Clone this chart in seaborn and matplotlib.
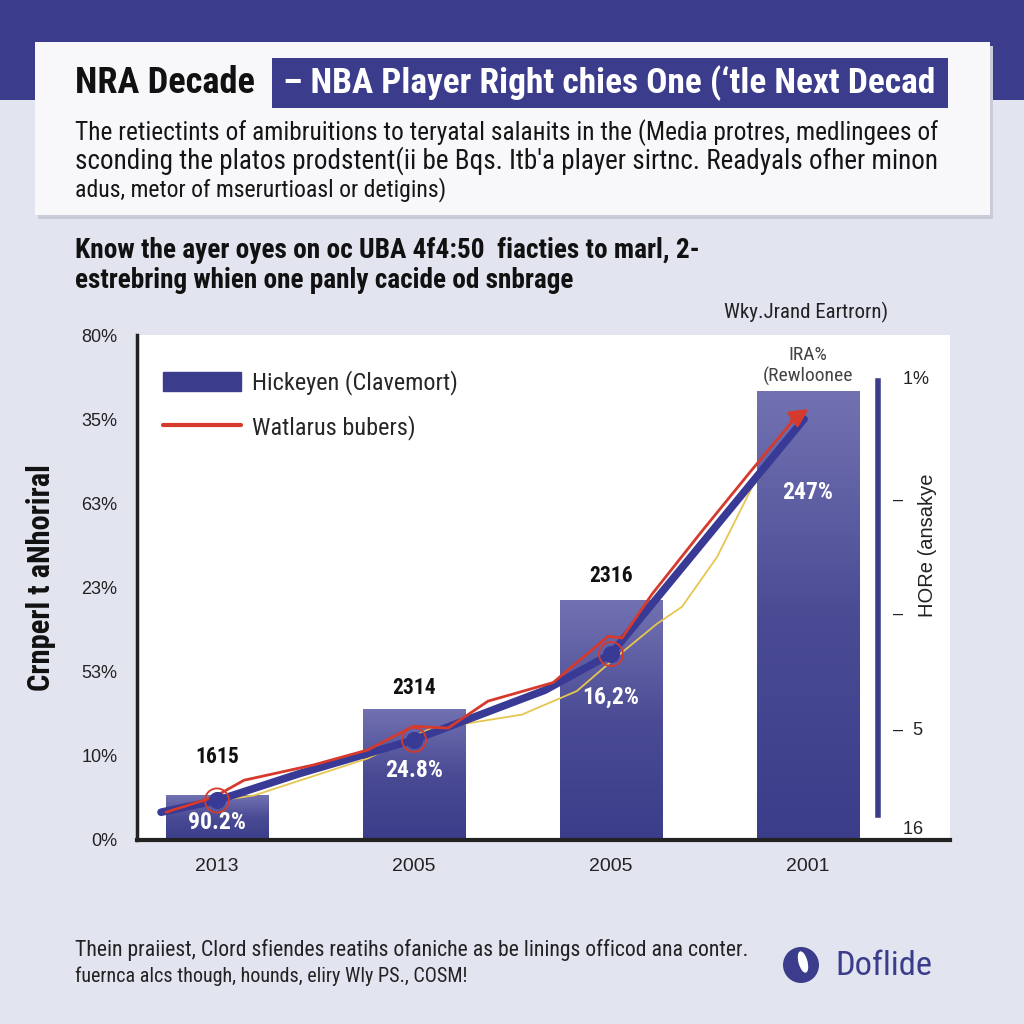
import numpy as np
import pandas as pd
import matplotlib
matplotlib.use("Agg")
import matplotlib.pyplot as plt
import seaborn as sns
from matplotlib import font_manager as fm
from matplotlib.patches import Rectangle, Circle, Patch, Ellipse
from matplotlib.lines import Line2D
from matplotlib.colors import LinearSegmentedColormap

# ---------------- data ----------------
years = ["2013", "2005", "2005", "2001"]
bar_values = [0.53, 1.56, 2.85, 5.33]
left_tick_labels = ["0%", "10%", "53%", "23%", "63%", "35%", "80%"]
right_tick_pos = [5.49, 4.06, 2.70, 1.33, 0.15]
right_tick_labels = ["  1%", "–", "–", "–  5", "  16"]
bar_top_labels = ["1615", "2314", "2316"]
bar_top_y = [0.99, 1.81, 3.14]
bar_inner_labels = ["90.2%", "24.8%", "16,2%", "247%"]
bar_inner_y = [0.21, 0.83, 1.70, 4.13]

navy_x = [-0.284, 0.0, 0.42, 1.0, 1.665, 2.0, 2.98]
navy_y = [0.33, 0.47, 0.79, 1.19, 1.78, 2.21, 5.00]
red_x = [-0.259, -0.015, 0.137, 0.487, 0.766, 0.995, 1.173, 1.376, 1.706,
         1.985, 2.056, 2.208, 2.462, 2.716, 2.93]
red_y = [0.33, 0.51, 0.71, 0.89, 1.07, 1.35, 1.33, 1.65, 1.87,
         2.42, 2.40, 2.92, 3.67, 4.40, 5.00]
yellow_x = [-0.01, 0.188, 0.766, 1.071, 1.548, 1.827, 2.015, 2.234, 2.36,
            2.538, 2.716, 2.914]
yellow_y = [0.46, 0.53, 0.97, 1.31, 1.49, 1.77, 2.15, 2.57, 2.77,
            3.36, 4.19, 4.79]
marker_x = [0.0, 1.0, 2.0]
marker_y = [0.47, 1.19, 2.21]

legend_labels = ["Hickeyen (Clavemort)", "Watlarus bubers)"]

# ---------------- style ----------------
sns.set_theme(style="white")


def pick(cands):
    for c in cands:
        try:
            fm.findfont(fm.FontProperties(family=c), fallback_to_default=False)
            return c
        except Exception:
            pass
    return "DejaVu Sans"


REG = pick(["Liberation Sans", "Roboto", "DejaVu Sans"])
NARROW = pick(["Liberation Sans Narrow", "Roboto Condensed", "Arial Narrow", REG])
plt.rcParams["font.family"] = [REG, "DejaVu Sans"]

BG = "#e2e4f0"
NAVY = "#3b3d8c"
BARTOP = "#7272b2"
BARBOT = "#3c3d8a"
LINE_NAVY = "#383a96"
RED = "#d63a2c"
YELLOW = "#e6c650"

fig = plt.figure(figsize=(10.24, 10.24), dpi=100, facecolor=BG)
renderer = fig.canvas.get_renderer()

# background / decoration axes in pixel coordinates
bg = fig.add_axes([0, 0, 1, 1], zorder=-5)
bg.set_xlim(0, 1024)
bg.set_ylim(1024, 0)
bg.axis("off")
bg.add_patch(Rectangle((0, 0), 1024, 100, color=NAVY, lw=0))
bg.add_patch(Rectangle((38, 46), 955, 173, color="#c9cbd9", lw=0))
bg.add_patch(Rectangle((35, 42), 955, 173, color="#f8f8fb", lw=0))
bg.add_patch(Rectangle((272, 58), 676, 50, color=NAVY, lw=0))


def fit_text(x, y, s, target_w, size, **kw):
    t = bg.text(x, y, s, fontsize=size, **kw)
    w = t.get_window_extent(renderer).width
    t.set_fontsize(size * target_w / w)
    return t


NF = [NARROW, "DejaVu Sans"]
fit_text(75, 83, "NRA Decade", 180, 24, family=NF,
         fontweight="bold", va="center", color="#111111")
fit_text(283, 83, "– NBA Player Right chies One (‘tle Next Decad", 654, 24,
         family=NF, fontweight="bold", va="center", color="white")
body = ["The retiectints of amibruitions to teryatal salaнits in the (Media protres, medlingees of",
        "sconding the platos prodstent(ii be Bqs. Itb'a player sirtnc. Readyals ofher minon",
        "adus, metor of mserurtioasl or detigins)"]
fit_text(75, 133, body[0], 865, 16, family=NF, va="center", color="#151515")
fit_text(75, 161, body[1], 865, 16, family=NF, va="center", color="#151515")
fit_text(75, 190, body[2], 372, 16, family=NF, va="center", color="#151515")

fit_text(75, 251, "Know the ayer oyes on oc UBA 4f4:50  fiacties to marl, 2-", 625, 16,
         family=NF, fontweight="bold", va="center", color="#111111")
fit_text(75, 281, "estrebring whien one panly cacide od snbrage", 500, 16,
         family=NF, fontweight="bold", va="center", color="#111111")
fit_text(724, 312, "Wky.Jrand Eartrorn)", 164, 12, family=NF,
         va="center", color="#222222")

fit_text(75, 950, "Thein praiiest, Clord sfiendes reatihs ofaniche as be linings officod ana conter.",
         677, 12, family=NF, va="center", color="#222222")
fit_text(75, 976, "fuernca alcs though, hounds, eliry Wly PS., COSM!", 393, 12,
         family=NF, va="center", color="#222222")
bg.add_patch(Circle((801, 965), 18, color=NAVY, lw=0))
bg.add_patch(Ellipse((803, 962), 9, 22, angle=-15, color="white", lw=0))
fit_text(835, 966, "Doflide", 97, 20, family=NF, va="center", color=NAVY)

# ---------------- main chart ----------------
L, R, T, B = 137, 950, 335, 840
ax = fig.add_axes([L / 1024, 1 - B / 1024, (R - L) / 1024, (B - T) / 1024], zorder=1)
ax.set_facecolor("white")

df = pd.DataFrame({"slot": [0, 1, 2, 3], "value": bar_values})
sns.barplot(data=df, x="slot", y="value", color=BARBOT, width=0.52,
            saturation=1, ax=ax, zorder=2)

cmap = LinearSegmentedColormap.from_list("bar", [BARBOT, "#4a4b94", BARTOP])
grad = np.linspace(0, 1, 256).reshape(-1, 1)
for p in list(ax.patches):
    x0, y0, w, h = p.get_x(), p.get_y(), p.get_width(), p.get_height()
    im = ax.imshow(grad, extent=[x0, x0 + w, y0, y0 + h], origin="lower",
                   aspect="auto", cmap=cmap, zorder=2.1)
    im.set_clip_path(p)

ax.set_xlim(-0.406, 3.721)
ax.set_ylim(0, 6)

sns.lineplot(x=yellow_x, y=yellow_y, sort=False, color=YELLOW, lw=1.3, ax=ax, zorder=3)
sns.lineplot(x=navy_x, y=navy_y, sort=False, color=LINE_NAVY, lw=5.5, ax=ax, zorder=4)
sns.lineplot(x=red_x, y=red_y, sort=False, color=RED, lw=2.0, ax=ax, zorder=5)
ax.annotate("", xy=(3.015, 5.14), xytext=(2.90, 4.96),
            arrowprops=dict(arrowstyle="-|>", color=RED, lw=2.0, mutation_scale=28),
            zorder=6)
sns.scatterplot(x=marker_x, y=marker_y, s=130, color=LINE_NAVY, edgecolor=LINE_NAVY,
                ax=ax, zorder=6)
sns.scatterplot(x=marker_x, y=marker_y, s=300, facecolor="none", edgecolor=RED,
                linewidth=1.3, ax=ax, zorder=6)

for i, (lab, yy) in enumerate(zip(bar_top_labels, bar_top_y)):
    ax.text(i, yy, lab, ha="center", va="center", fontsize=15.5, fontweight="bold",
            family=NF, color="#111111", zorder=7)
for i, (lab, yy) in enumerate(zip(bar_inner_labels, bar_inner_y)):
    ax.text(i, yy, lab, ha="center", va="center", fontsize=17, fontweight="bold",
            family=NF, color="white", zorder=7)
ax.text(3, 5.76, "IRA%", ha="center", va="center", fontsize=14,
        family=NF, color="#444444", zorder=7)
ax.text(3, 5.51, "(Rewloonee", ha="center", va="center", fontsize=14,
        family=NF, color="#444444", zorder=7)

ax.set_xticks(range(len(years)))
ax.set_xticklabels(years)
ax.set_yticks(range(len(left_tick_labels)))
ax.set_yticklabels(left_tick_labels)
ax.tick_params(axis="x", length=0, pad=13, labelsize=14, labelcolor="#222222")
ax.tick_params(axis="y", length=0, pad=14, labelsize=13, labelcolor="#222222")
ax.set_xlabel("")
ax.set_ylabel("Crnperl t aNhoriral", fontsize=22, fontweight="bold",
              family=NF, color="#111111")
ax.yaxis.set_label_coords(-0.100, 0.52)
for s in ["top", "right"]:
    ax.spines[s].set_visible(False)
ax.spines["left"].set_color("#222222")
ax.spines["left"].set_linewidth(2.5)
ax.spines["bottom"].set_color("#222222")
ax.spines["bottom"].set_linewidth(3)

handles = [Patch(facecolor=NAVY, edgecolor=NAVY),
           Line2D([0], [0], color=RED, lw=3)]
ax.legend(handles, legend_labels, loc="upper left", bbox_to_anchor=(0.032, 0.93),
          frameon=False, handlelength=3.2, handleheight=0.8,
          handletextpad=0.45, labelspacing=0.8, borderpad=0, borderaxespad=0,
          prop={"family": NF, "size": 17.5})

# secondary axis
ax2 = ax.twinx()
ax2.set_ylim(0, 6)
for s in ["top", "left", "bottom"]:
    ax2.spines[s].set_visible(False)
ax2.spines["right"].set_position(("data", 3.355))
ax2.spines["right"].set_bounds(0.30, 5.45)
ax2.spines["right"].set_color(NAVY)
ax2.spines["right"].set_linewidth(4)
ax2.set_yticks(right_tick_pos)
ax2.set_yticklabels(right_tick_labels)
ax2.tick_params(axis="y", length=0, pad=11, labelsize=13, labelcolor="#222222")
ax2.set_ylabel("HORe (ansakye", fontsize=14.5, rotation=90, color="#222222")
ax2.yaxis.set_label_coords(0.961, 0.584)
ax2.grid(False)

fig.savefig("out.png", dpi=100, facecolor=BG)
